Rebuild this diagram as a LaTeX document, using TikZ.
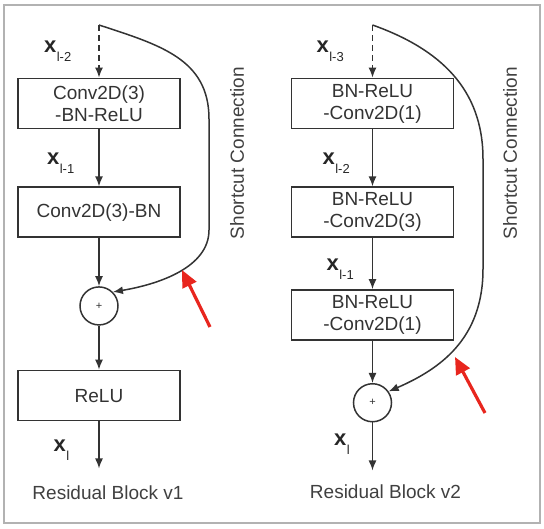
\documentclass[tikz,border=0pt]{standalone}
\usepackage{fontspec}
\setmainfont{Liberation Sans}
\usepackage{xcolor}
\usepackage{tikz}
\usetikzlibrary{positioning,arrows.meta,calc}
\definecolor{hintred}{RGB}{232,38,30}
\newcommand{\xsub}[1]{\textbf{x}\hspace{0.5pt}\raisebox{-9pt}{\fontsize{13}{13}\selectfont #1}}

\begin{document}
\begin{tikzpicture}[x=1pt, y=1pt,
  box/.style={draw=black!80, line width=1.8pt, align=center, text=black!80, font=\fontsize{19}{22}\selectfont, minimum width=162pt, minimum height=50pt, inner sep=2pt},
  sum/.style={draw=black!80, line width=1.5pt, circle, minimum size=38pt, inner sep=0pt, text=black!80, font=\fontsize{11}{11}\selectfont},
  xlab/.style={text=black!85, font=\fontsize{22}{22}\selectfont, inner sep=0pt},
  lbl/.style={text=black!75, font=\fontsize{19}{19}\selectfont, inner sep=0pt},
  ar/.style={-{Latex[length=10pt, width=8pt]}, draw=black!80, line width=1.5pt},
  hint/.style={-{Triangle[length=17pt, width=15pt]}, draw=hintred, fill=hintred, line width=3.2pt}]
\useasboundingbox (0,0) rectangle (544,529);
\draw[gray!60, line width=1.5pt] (4,6) rectangle (540,524);
\node[box] (convA) at (99,425.5) {Conv2D(3)\\-BN-ReLU};
\node[box, below=57pt of convA] (convB) {Conv2D(3)-BN};
\node[sum, below=48pt of convB] (addA) {+};
\node[box, below=44pt of addA] (reluA) {ReLU};
\coordinate (inA) at (99,504);
\coordinate[below=47pt of reluA] (outA);
\node[lbl, below=17pt of outA, xshift=9pt] (nameA) {Residual Block v1};
\node[lbl, rotate=90] (scA) at (237,376) {Shortcut Connection};
\node[box] (bnA) at (372.5,425.5) {BN-ReLU\\-Conv2D(1)};
\node[box, below=57pt of bnA] (bnB) {BN-ReLU\\-Conv2D(3)};
\node[box, below=51pt of bnB] (bnC) {BN-ReLU\\-Conv2D(1)};
\node[sum, below=42pt of bnC] (addB) {+};
\coordinate (inB) at (372.5,504);
\coordinate[below=48pt of addB] (outB);
\node[lbl, below=14pt of outB, xshift=13pt] (nameB) {Residual Block v2};
\node[lbl, rotate=90] (scB) at (510,376) {Shortcut Connection};
\draw[ar, dash pattern=on 6pt off 4pt] (inA) -- node[xlab, left=27pt] {\xsub{l-2}} (convA);
\draw[ar] (convA) -- node[xlab, left=24pt, pos=0.6] {\xsub{l-1}} (convB);
\draw[ar] (convB) -- (addA);
\draw[ar] (addA) -- (reluA);
\draw[ar] (reluA) -- node[xlab, left=29pt, pos=0.6] {\xsub{l}} (outA);
\draw[ar] (inA) .. controls (160,484) and (209,470) .. (209,410) -- (209,299) .. controls (209,262) and (160,245) .. (addA.45);
\draw[ar, dash pattern=on 6pt off 4pt] (inB) -- node[xlab, left=28pt] {\xsub{l-3}} (bnA);
\draw[ar] (bnA) -- node[xlab, left=22pt, pos=0.6] {\xsub{l-2}} (bnB);
\draw[ar] (bnB) -- node[xlab, left=18pt, pos=0.6] {\xsub{l-1}} (bnC);
\draw[ar] (bnC) -- (addB);
\draw[ar] (addB) -- node[xlab, left=22pt, pos=0.45] {\xsub{l}} (outB);
\draw[ar] (inB) .. controls (440,480) and (483,440) .. (483,370) -- (483,260) .. controls (483,190) and (440,160) .. (addB.35);
\coordinate (hintA) at (210,202);
\coordinate (tipA) at (182,259);
\coordinate (hintB) at (485,116);
\coordinate (tipB) at (455,172);
\draw[hint] (hintA) -- (tipA);
\draw[hint] (hintB) -- (tipB);
\end{tikzpicture}
\end{document}
